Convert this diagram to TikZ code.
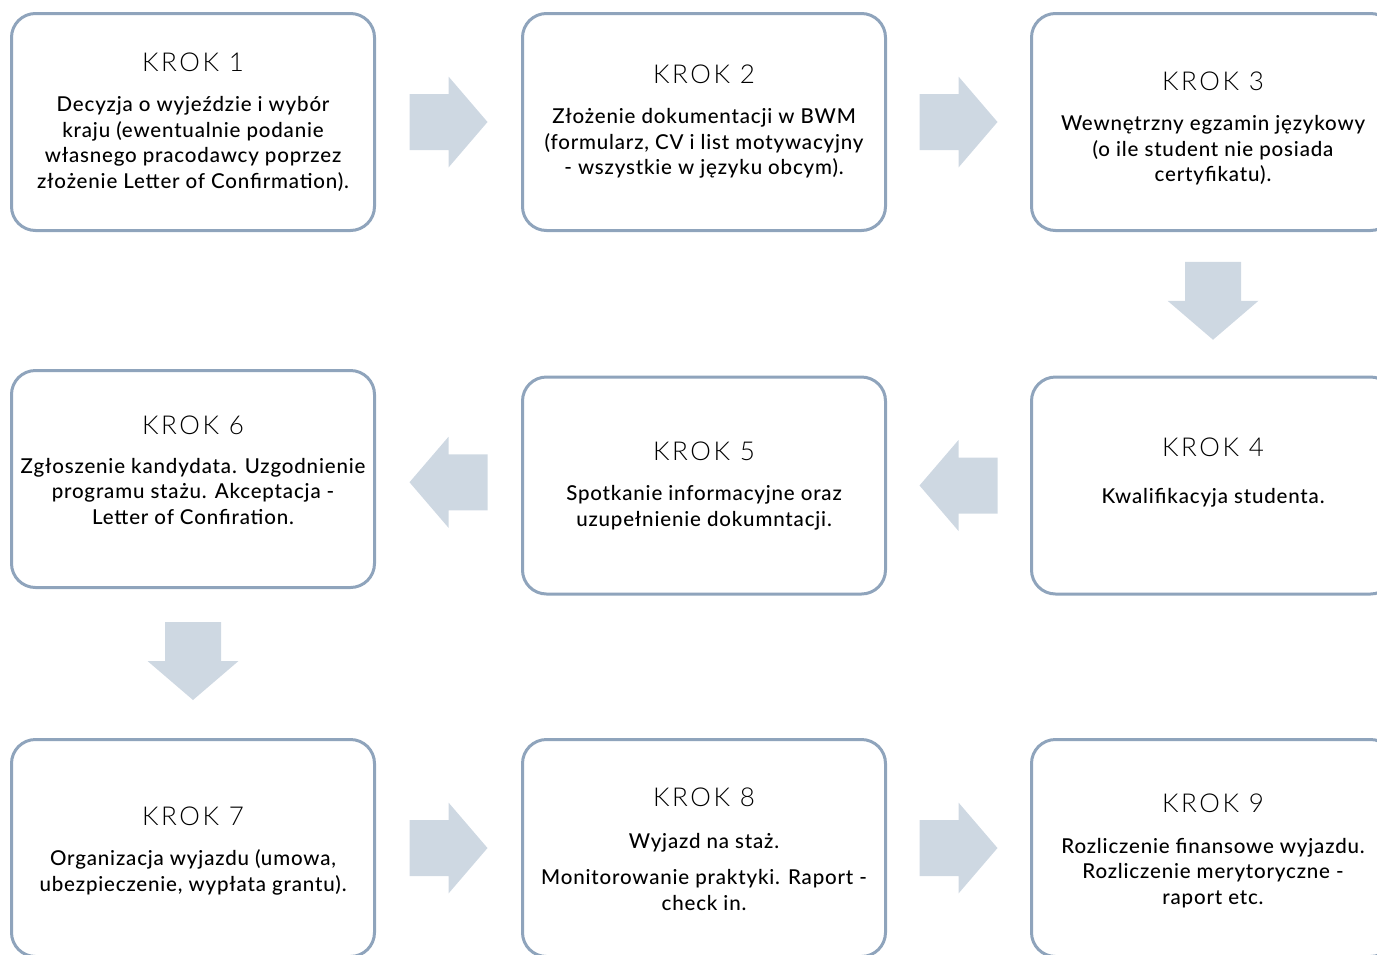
\documentclass[tikz,border=0pt]{standalone}
\usepackage{fontspec}
\setmainfont{Lato}
\newfontfamily\titlefont{Lato Light}[LetterSpace=10]
\IfFontExistsTF{Lato Medium}{\newfontfamily\bodyfont{Lato Medium}[LetterSpace=4]}{\newfontfamily\bodyfont{Lato}[LetterSpace=4,FakeBold=0.5]}
\usetikzlibrary{calc}
\definecolor{boxline}{RGB}{143,164,188}
\definecolor{arrfill}{RGB}{206,216,226}
\begin{document}
\begin{tikzpicture}[x=1pt,y=-1pt,
 stepbox/.style={draw=boxline, line width=3pt, rounded corners=24pt, minimum width=363pt, minimum height=217pt, inner sep=0pt, fill=white},
 titletext/.style={font=\titlefont\fontsize{26}{30}\selectfont, inner sep=0pt},
 bodytext/.style={font=\bodyfont\fontsize{20.5}{25.5}\selectfont, align=center, inner sep=0pt},
 barrow/.pic={\fill[arrfill] (-39,-28) -- (0,-28) -- (0,-45.5) -- (39,0) -- (0,45.5) -- (0,28) -- (-39,28) -- cycle;}
]
\useasboundingbox (0,0) rectangle (1377,954);
\clip (0,0) rectangle (1377,954);
\node[stepbox] (k1) at (193,122) {};
\node[stepbox] (k2) at (704,122) {};
\node[stepbox] (k3) at (1213,122) {};
\node[stepbox] (k6) at (193,479) {};
\node[stepbox] (k5) at (704,485.5) {};
\node[stepbox] (k4) at (1213,485.5) {};
\node[stepbox] (k7) at (193,848) {};
\node[stepbox] (k8) at (704,848) {};
\node[stepbox] (k9) at (1213,848) {};

\node[titletext] (t1) at ($(k1.north)+(0,50.5)$) {KROK 1};
\node[bodytext] (b1) at ($(k1.north)+(0,132)$) {Decyzja o wyjeździe i wybór\\ kraju (ewentualnie podanie\\ własnego pracodawcy poprzez\\ złożenie Letter of Confirmation).};
\node[titletext] (t2) at ($(k2.north)+(0,62.5)$) {KROK 2};
\node[bodytext] (b2) at ($(k2.north)+(0,131.5)$) {Złożenie dokumentacji w BWM\\ (formularz, CV i list motywacyjny\\ - wszystkie w języku obcym).};
\node[titletext] (t3) at ($(k3.north)+(0,69.5)$) {KROK 3};
\node[bodytext] (b3) at ($(k3.north)+(0,138.5)$) {Wewnętrzny egzamin językowy\\ (o ile student nie posiada\\ certyfikatu).};
\node[titletext] (t4) at ($(k4.north)+(0,72)$) {KROK 4};
\node[bodytext] (b4) at ($(k4.north)+(0,122)$) {Kwalifikacyja studenta.};
\node[titletext] (t5) at ($(k5.north)+(0,76)$) {KROK 5};
\node[bodytext] (b5) at ($(k5.north)+(0,132.5)$) {Spotkanie informacyjne oraz\\ uzupełnienie dokumntacji.};
\node[titletext] (t6) at ($(k6.north)+(0,56.5)$) {KROK 6};
\node[bodytext] (b6) at ($(k6.north)+(0,122.5)$) {Zgłoszenie kandydata. Uzgodnienie\\ programu stażu. Akceptacja -\\ Letter of Confiration.};
\node[titletext] (t7) at ($(k7.north)+(0,78.5)$) {KROK 7};
\node[bodytext] (b7) at ($(k7.north)+(0,134.5)$) {Organizacja wyjazdu (umowa,\\ ubezpieczenie, wypłata grantu).};
\node[titletext] (t8) at ($(k8.north)+(0,59.5)$) {KROK 8};
\node[bodytext] (b8a) at ($(k8.north)+(0,104.5)$) {Wyjazd na staż.};
\node[bodytext] (b8) at ($(k8.north)+(0,152)$) {Monitorowanie praktyki. Raport -\\ check in.};
\node[titletext] (t9) at ($(k9.north)+(0,65.5)$) {KROK 9};
\node[bodytext] (b9) at ($(k9.north)+(0,135)$) {Rozliczenie finansowe wyjazdu.\\ Rozliczenie merytoryczne -\\ raport etc.};

\pic at ($(k1.east)!0.5!(k2.west)$) {barrow};
\pic at ($(k2.east)!0.5!(k3.west)$) {barrow};
\pic[rotate=-90] at ($(k3.south)!0.5!(k4.north)+(0,-3)$) {barrow};
\pic[rotate=180] at ($(k4.west)!0.5!(k5.east)$) {barrow};
\pic[rotate=180] at ($(k5.west)!0.5!(k6.east)$) {barrow};
\pic[rotate=-90] at ($(k6.south)!0.5!(k7.north)+(0,-2.5)$) {barrow};
\pic at ($(k7.east)!0.5!(k8.west)$) {barrow};
\pic at ($(k8.east)!0.5!(k9.west)$) {barrow};
\end{tikzpicture}
\end{document}
